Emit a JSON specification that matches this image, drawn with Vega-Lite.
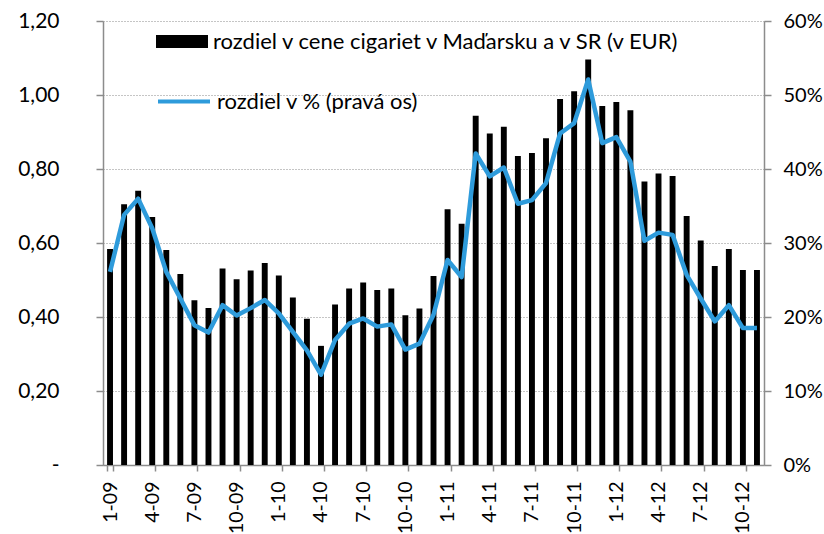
{
  "$schema": "https://vega.github.io/schema/vega-lite/v6.json",
  "width": 661,
  "height": 444,
  "autosize": {"type": "none"},
  "padding": {"left": 103, "top": 21, "right": 60, "bottom": 69},
  "config": {
    "font": "Lato",
    "view": {"stroke": null},
    "axis": {
      "labelFont": "Lato",
      "labelFontSize": 21,
      "labelColor": "#000000",
      "domainColor": "#8c8c8c",
      "tickColor": "#8c8c8c",
      "domainWidth": 1.5,
      "tickWidth": 1.5,
      "title": null
    }
  },
  "data": {
    "values": [
      {"m": "1-09", "v": 0.584, "p": 26.1},
      {"m": "2-09", "v": 0.705, "p": 33.8},
      {"m": "3-09", "v": 0.741, "p": 36.0},
      {"m": "4-09", "v": 0.670, "p": 32.0},
      {"m": "5-09", "v": 0.581, "p": 26.1},
      {"m": "6-09", "v": 0.516, "p": 22.5},
      {"m": "7-09", "v": 0.445, "p": 18.9},
      {"m": "8-09", "v": 0.424, "p": 17.9},
      {"m": "9-09", "v": 0.531, "p": 21.6},
      {"m": "10-09", "v": 0.502, "p": 20.2},
      {"m": "11-09", "v": 0.526, "p": 21.2},
      {"m": "12-09", "v": 0.546, "p": 22.3},
      {"m": "1-10", "v": 0.512, "p": 20.5},
      {"m": "2-10", "v": 0.453, "p": 18.0},
      {"m": "3-10", "v": 0.395, "p": 15.5},
      {"m": "4-10", "v": 0.322, "p": 12.2},
      {"m": "5-10", "v": 0.434, "p": 16.9},
      {"m": "6-10", "v": 0.477, "p": 19.1},
      {"m": "7-10", "v": 0.493, "p": 19.8},
      {"m": "8-10", "v": 0.473, "p": 18.7},
      {"m": "9-10", "v": 0.477, "p": 19.0},
      {"m": "10-10", "v": 0.405, "p": 15.6},
      {"m": "11-10", "v": 0.423, "p": 16.4},
      {"m": "12-10", "v": 0.511, "p": 20.3},
      {"m": "1-11", "v": 0.691, "p": 27.7},
      {"m": "2-11", "v": 0.652, "p": 25.4},
      {"m": "3-11", "v": 0.944, "p": 42.1},
      {"m": "4-11", "v": 0.896, "p": 39.0},
      {"m": "5-11", "v": 0.914, "p": 40.2},
      {"m": "6-11", "v": 0.835, "p": 35.3},
      {"m": "7-11", "v": 0.843, "p": 35.8},
      {"m": "8-11", "v": 0.883, "p": 38.1},
      {"m": "9-11", "v": 0.989, "p": 44.8},
      {"m": "10-11", "v": 1.010, "p": 46.2},
      {"m": "11-11", "v": 1.096, "p": 52.1},
      {"m": "12-11", "v": 0.970, "p": 43.5},
      {"m": "1-12", "v": 0.981, "p": 44.3},
      {"m": "2-12", "v": 0.959, "p": 41.0},
      {"m": "3-12", "v": 0.766, "p": 30.3},
      {"m": "4-12", "v": 0.788, "p": 31.4},
      {"m": "5-12", "v": 0.781, "p": 31.1},
      {"m": "6-12", "v": 0.673, "p": 25.7},
      {"m": "7-12", "v": 0.607, "p": 22.5},
      {"m": "8-12", "v": 0.538, "p": 19.4},
      {"m": "9-12", "v": 0.584, "p": 21.6},
      {"m": "10-12", "v": 0.527, "p": 18.5},
      {"m": "11-12", "v": 0.527, "p": 18.5}
    ]
  },
  "encoding": {
    "x": {
      "field": "m",
      "type": "ordinal",
      "sort": null,
      "scale": {"paddingInner": 0.58, "paddingOuter": 0.29},
      "axis": {
        "values": ["1-09", "4-09", "7-09", "10-09", "1-10", "4-10", "7-10", "10-10", "1-11", "4-11", "7-11", "10-11", "1-12", "4-12", "7-12", "10-12"],
        "labelAngle": -90,
        "labelFontSize": 19.5,
        "tickBand": "extent",
        "tickSize": 6,
        "labelPadding": 10
      }
    }
  },
  "layer": [
    {
      "mark": {"type": "bar"},
      "encoding": {
        "y": {
          "field": "v",
          "type": "quantitative",
          "scale": {"domain": [0, 1.2], "nice": false},
          "axis": {
            "orient": "left",
            "values": [0, 0.2, 0.4, 0.6, 0.8, 1.0, 1.2],
            "labelExpr": "datum.value == 0 ? '-' : replace(format(datum.value, '.2f'), '.', ',')",
            "grid": true,
            "gridDash": [1, 2],
            "gridColor": "#8c8c8c",
            "gridWidth": 1.2,
            "tickSize": 7,
            "labelPadding": 37
          }
        },
        "fill": {
          "datum": "rozdiel v cene cigariet v Maďarsku a v SR (v EUR)",
          "scale": {"range": ["#000000"]},
          "legend": {
            "orient": "none",
            "legendX": 53,
            "legendY": -5.5,
            "title": null,
            "padding": 0,
            "symbolType": "M-1,-0.25H1V0.25H-1Z",
            "symbolSize": 2704,
            "symbolStrokeWidth": 0,
            "labelFont": "Lato",
            "labelFontSize": 22,
            "labelColor": "#000000",
            "labelLimit": 0,
            "labelOffset": 5
          }
        }
      }
    },
    {
      "mark": {"type": "line", "strokeWidth": 4.5, "strokeJoin": "round"},
      "encoding": {
        "y": {
          "field": "p",
          "type": "quantitative",
          "scale": {"domain": [0, 60], "nice": false},
          "axis": {
            "orient": "right",
            "values": [0, 10, 20, 30, 40, 50, 60],
            "labelExpr": "datum.value + '%'",
            "labelFontSize": 20,
            "grid": false,
            "tickSize": 7,
            "labelPadding": 12
          }
        },
        "stroke": {
          "datum": "rozdiel v % (pravá os)",
          "scale": {"range": ["#2E9BDB"]},
          "legend": {
            "orient": "none",
            "legendX": 53,
            "legendY": 52.5,
            "title": null,
            "padding": 0,
            "symbolType": "stroke",
            "symbolSize": 2704,
            "symbolStrokeWidth": 4,
            "labelFont": "Lato",
            "labelFontSize": 22,
            "labelColor": "#000000",
            "labelLimit": 0,
            "labelOffset": 5
          }
        }
      }
    }
  ],
  "resolve": {"scale": {"y": "independent"}}
}
